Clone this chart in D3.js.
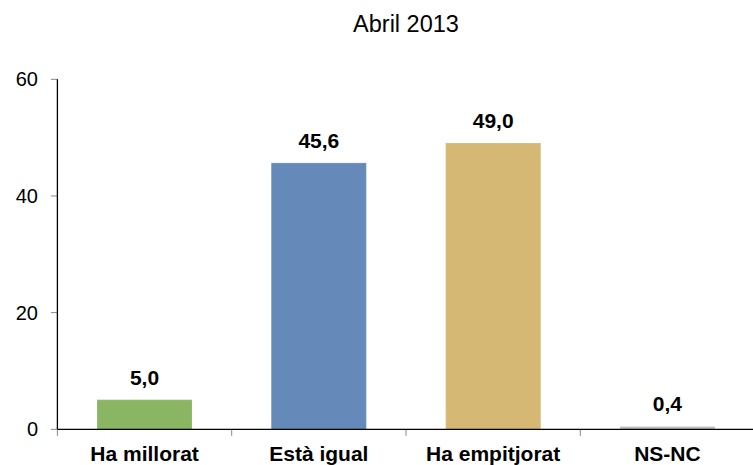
<!DOCTYPE html>
<html>
<head>
<meta charset="utf-8">
<script src="https://cdn.jsdelivr.net/npm/d3@7/dist/d3.min.js"></script>
<style>
  html, body { margin: 0; padding: 0; background: #fff; }
  svg { display: block; font-family: "Liberation Sans", Arial, sans-serif; }
</style>
</head>
<body>
<svg id="chart" width="753" height="465"></svg>
<script>
const title = "Abril 2013";
const categories = ["Ha millorat", "Està igual", "Ha empitjorat", "NS-NC"];
const values = [5.0, 45.6, 49.0, 0.4];
const valueLabels = ["5,0", "45,6", "49,0", "0,4"];
const colors = ["#8AB562", "#6589B8", "#D4B874", "#BFBFBF"];
const yTicks = [0, 20, 40, 60];

const svg = d3.select("#chart");
const x0 = 57.4, x1 = 754.6, yTop = 79.3, yBase = 429.3;

const x = d3.scaleBand().domain(categories).range([x0, x1]).padding(0);
const y = d3.scaleLinear().domain([0, 60]).range([yBase, yTop]);
const barW = x.bandwidth() * 0.54;

// title
svg.append("text")
  .attr("x", 406).attr("y", 32)
  .attr("text-anchor", "middle")
  .attr("font-size", 23.5)
  .attr("fill", "#000")
  .text(title);

// bars
svg.selectAll("rect.bar").data(values).enter().append("rect")
  .attr("class", "bar")
  .attr("x", (d, i) => x(categories[i]) + (x.bandwidth() - barW) / 2)
  .attr("y", d => y(d))
  .attr("width", barW)
  .attr("height", d => yBase - y(d))
  .attr("fill", (d, i) => colors[i])
  .attr("stroke", (d, i) => colors[i])
  .attr("stroke-width", 0.8);

// value labels
svg.selectAll("text.val").data(values).enter().append("text")
  .attr("class", "val")
  .attr("x", (d, i) => x(categories[i]) + x.bandwidth() / 2)
  .attr("y", d => y(d) - 15.5)
  .attr("text-anchor", "middle")
  .attr("font-size", 21)
  .attr("font-weight", "bold")
  .text((d, i) => valueLabels[i]);

// y axis
const yAxis = svg.append("g");
yAxis.selectAll("line.tick").data(yTicks).enter().append("line")
  .attr("x1", x0 - 6.5).attr("x2", x0)
  .attr("y1", d => y(d)).attr("y2", d => y(d))
  .attr("stroke", "#888").attr("stroke-width", 1);
yAxis.selectAll("text").data(yTicks).enter().append("text")
  .attr("x", 38).attr("y", d => y(d) + 7)
  .attr("text-anchor", "end")
  .attr("font-size", 20)
  .text(d => d);
yAxis.append("line")
  .attr("x1", x0).attr("x2", x0).attr("y1", yTop).attr("y2", yBase)
  .attr("stroke", "#000").attr("stroke-width", 1.3);

// x axis
const xAxis = svg.append("g");
const bounds = categories.map(c => x(c)).concat([x1]);
xAxis.selectAll("line.tick").data(bounds).enter().append("line")
  .attr("x1", d => d).attr("x2", d => d)
  .attr("y1", yBase).attr("y2", yBase + 6.5)
  .attr("stroke", "#888").attr("stroke-width", 1);
xAxis.append("line")
  .attr("x1", x0).attr("x2", x1).attr("y1", yBase).attr("y2", yBase)
  .attr("stroke", "#000").attr("stroke-width", 1.3);
xAxis.selectAll("text").data(categories).enter().append("text")
  .attr("x", d => x(d) + x.bandwidth() / 2)
  .attr("y", 460.5)
  .attr("text-anchor", "middle")
  .attr("font-size", 21)
  .attr("font-weight", "bold")
  .text(d => d);
</script>
</body>
</html>
